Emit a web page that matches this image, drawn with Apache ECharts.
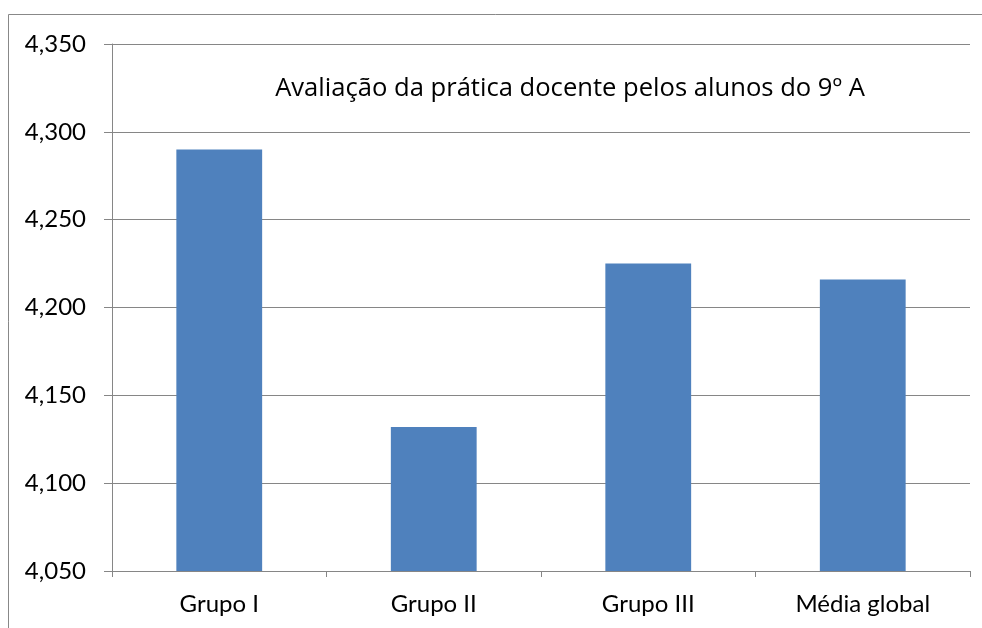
<!DOCTYPE html>
<html>
<head>
<meta charset="utf-8">
<script src="https://cdn.jsdelivr.net/npm/echarts@6/dist/echarts.min.js"></script>
<style>
  html, body { margin: 0; padding: 0; background: #fff; }
  #chart { width: 982px; height: 628px; }
</style>
</head>
<body>
<div id="chart"></div>
<script>
// Mean scores per group
const categories = ['Grupo I', 'Grupo II', 'Grupo III', 'Média global'];
const scores = [4.290, 4.132, 4.225, 4.216];
const titleText = 'Avaliação da prática docente pelos alunos do 9º A';

const FONT = 'Lato, "Open Sans", sans-serif';
const TITLE_FONT = '"Open Sans", Lato, sans-serif';
const chart = echarts.init(document.getElementById('chart'), null, { renderer: 'canvas' });

chart.setOption({
  animation: false,
  backgroundColor: '#fff',
  textStyle: { fontFamily: FONT },
  title: {
    text: titleText,
    left: 565, top: 71, textAlign: 'center',
    textStyle: { fontFamily: TITLE_FONT, fontSize: 25.6, fontWeight: 'normal', color: '#000' }
  },
  graphic: [{
    type: 'rect', z: -1,
    shape: { x: 8.5, y: 14.5, width: 1000, height: 700 },
    style: { fill: 'none', stroke: '#888', lineWidth: 1 }
  }],
  grid: { left: 112, right: 12, top: 44, bottom: 57, containLabel: false },
  xAxis: {
    type: 'category',
    data: categories,
    boundaryGap: true,
    axisLine: { lineStyle: { color: '#868686', width: 1 } },
    axisTick: { show: true, length: 6, lineStyle: { color: '#868686' } },
    axisLabel: { color: '#000', fontSize: 24, fontFamily: FONT, margin: 21 }
  },
  yAxis: {
    type: 'value',
    min: 4.05, max: 4.35, interval: 0.05,
    axisLine: { show: true, lineStyle: { color: '#868686', width: 1 } },
    axisTick: { show: true, length: 8, lineStyle: { color: '#868686' } },
    axisLabel: {
      color: '#000', fontSize: 24, fontFamily: FONT, margin: 26,
      formatter: v => v.toFixed(3).replace('.', ',')
    },
    splitLine: { show: true, lineStyle: { color: '#868686', width: 1 } }
  },
  series: [{
    type: 'bar',
    data: scores,
    barWidth: '40%',
    itemStyle: { color: '#4F81BD' }
  }]
});
</script>
</body>
</html>
